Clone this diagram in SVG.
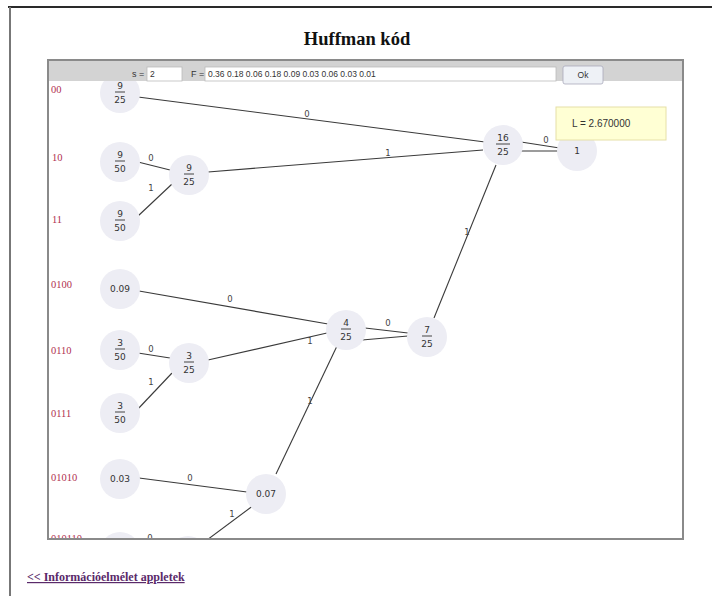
<svg xmlns="http://www.w3.org/2000/svg" width="712" height="596" viewBox="0 0 712 596">
  <defs>
    <style>
      .node circle { fill: #ededf4; }
      .val { font-family: "DejaVu Sans", Verdana, sans-serif; font-size: 9px; fill: #333; text-anchor: middle; }
      .bar { stroke: #444; stroke-width: 1; }
      .code { font-family: "Liberation Serif", serif; font-size: 10.5px; fill: #b03050; }
      .edge line { stroke: #3a3a3a; stroke-width: 1.1; }
      .elab { font-family: "DejaVu Sans", Verdana, sans-serif; font-size: 8.5px; fill: #444; text-anchor: middle; }
      .ui { font-family: "Liberation Sans", Arial, sans-serif; fill: #333; }
    </style>
    <clipPath id="canvas">
      <rect x="49" y="81" width="633" height="457"/>
    </clipPath>
  </defs>

  <!-- page -->
  <rect width="712" height="596" fill="#fff"/>
  <line x1="8" y1="7" x2="712" y2="7" stroke="#2a2a2a" stroke-width="2"/>
  <line x1="10" y1="7" x2="10" y2="596" stroke="#777" stroke-width="2"/>
  <text x="357" y="45" font-family="Liberation Serif, serif" font-size="18.5" font-weight="bold" text-anchor="middle" fill="#111">Huffman kód</text>

  <!-- applet area -->
  <rect x="48" y="60" width="635" height="479" fill="#fff" stroke="#8a8a8a" stroke-width="2"/>

  <g clip-path="url(#canvas)">
    <!-- connectors -->
    <g id="edges" class="edge">
      <line x1="138" y1="97" x2="485" y2="142"/>
      <line x1="208" y1="172" x2="483" y2="150"/>
      <line x1="138" y1="162" x2="170" y2="170"/>
      <line x1="137" y1="217" x2="172" y2="184"/>
      <line x1="521" y1="142" x2="566" y2="149"/>
      <line x1="520" y1="151" x2="565" y2="151"/>
      <line x1="434" y1="318" x2="496" y2="165"/>
      <line x1="139" y1="291" x2="328" y2="324"/>
      <line x1="208" y1="360" x2="327" y2="333"/>
      <line x1="365" y1="328" x2="408" y2="333"/>
      <line x1="362" y1="340" x2="408" y2="336"/>
      <line x1="276" y1="474" x2="337" y2="346"/>
      <line x1="138" y1="353" x2="170" y2="358"/>
      <line x1="137" y1="410" x2="172" y2="373"/>
      <line x1="139" y1="478" x2="247" y2="492"/>
      <line x1="254" y1="505" x2="207" y2="540"/>
      <line x1="139" y1="540" x2="168" y2="542"/>
      <text class="elab" x="307" y="117">0</text>
      <text class="elab" x="388" y="156">1</text>
      <text class="elab" x="151" y="161">0</text>
      <text class="elab" x="151" y="191">1</text>
      <text class="elab" x="546" y="143">0</text>
      <text class="elab" x="467" y="235">1</text>
      <text class="elab" x="230" y="302">0</text>
      <text class="elab" x="310" y="344">1</text>
      <text class="elab" x="388" y="326">0</text>
      <text class="elab" x="310" y="404">1</text>
      <text class="elab" x="151" y="352">0</text>
      <text class="elab" x="151" y="385">1</text>
      <text class="elab" x="190" y="481">0</text>
      <text class="elab" x="232" y="517">1</text>
      <text class="elab" x="150" y="541">0</text>
    </g>

    <!-- code words -->
    <g id="codes">
      <text class="code" x="51" y="93">00</text>
      <text class="code" x="52" y="161">10</text>
      <text class="code" x="52" y="223">11</text>
      <text class="code" x="51" y="288">0100</text>
      <text class="code" x="51" y="354">0110</text>
      <text class="code" x="51" y="417">0111</text>
      <text class="code" x="51" y="481">01010</text>
      <text class="code" x="51" y="542">010110</text>
    </g>

    <!-- nodes -->
    <g id="n-9-25a" class="node"><circle cx="120" cy="93" r="20"/>
      <text class="val" x="120" y="89">9</text><line class="bar" x1="115" y1="92" x2="125" y2="92"/><text class="val" x="120" y="103">25</text></g>
    <g id="n-9-50a" class="node"><circle cx="120" cy="162" r="20"/>
      <text class="val" x="120" y="158">9</text><line class="bar" x1="115" y1="161" x2="125" y2="161"/><text class="val" x="120" y="172">50</text></g>
    <g id="n-9-25b" class="node"><circle cx="189" cy="175" r="20"/>
      <text class="val" x="189" y="171">9</text><line class="bar" x1="184" y1="174" x2="194" y2="174"/><text class="val" x="189" y="185">25</text></g>
    <g id="n-9-50b" class="node"><circle cx="120" cy="221" r="20"/>
      <text class="val" x="120" y="217">9</text><line class="bar" x1="115" y1="220" x2="125" y2="220"/><text class="val" x="120" y="231">50</text></g>
    <g id="n-0-09" class="node"><circle cx="120" cy="289" r="20"/>
      <text class="val" x="120" y="292">0.09</text></g>
    <g id="n-3-50a" class="node"><circle cx="120" cy="350" r="20"/>
      <text class="val" x="120" y="346">3</text><line class="bar" x1="115" y1="349" x2="125" y2="349"/><text class="val" x="120" y="360">50</text></g>
    <g id="n-3-25" class="node"><circle cx="189" cy="363" r="20"/>
      <text class="val" x="189" y="359">3</text><line class="bar" x1="184" y1="362" x2="194" y2="362"/><text class="val" x="189" y="373">25</text></g>
    <g id="n-3-50b" class="node"><circle cx="120" cy="413" r="20"/>
      <text class="val" x="120" y="409">3</text><line class="bar" x1="115" y1="412" x2="125" y2="412"/><text class="val" x="120" y="423">50</text></g>
    <g id="n-0-03" class="node"><circle cx="120" cy="479" r="20"/>
      <text class="val" x="120" y="482">0.03</text></g>
    <g id="n-0-07" class="node"><circle cx="266" cy="494" r="20"/>
      <text class="val" x="266" y="497">0.07</text></g>
    <g id="n-4-25" class="node"><circle cx="346" cy="330" r="20"/>
      <text class="val" x="346" y="326">4</text><line class="bar" x1="341" y1="329" x2="351" y2="329"/><text class="val" x="346" y="340">25</text></g>
    <g id="n-7-25" class="node"><circle cx="427" cy="337" r="20"/>
      <text class="val" x="427" y="333">7</text><line class="bar" x1="422" y1="336" x2="432" y2="336"/><text class="val" x="427" y="347">25</text></g>
    <g id="n-16-25" class="node"><circle cx="503" cy="145" r="20"/>
      <text class="val" x="503" y="141">16</text><line class="bar" x1="496" y1="144" x2="510" y2="144"/><text class="val" x="503" y="155">25</text></g>
    <g id="n-1" class="node"><circle cx="577" cy="151" r="20"/>
      <text class="val" x="577" y="154">1</text></g>
    <g id="n-bottom-a" class="node"><circle cx="120" cy="552" r="20"/></g>
    <g id="n-bottom-b" class="node"><circle cx="188" cy="556" r="20"/></g>

    <!-- average length -->
    <g id="avg-length">
      <rect x="556" y="107" width="110" height="33" fill="#ffffd4" stroke="#e6e0a8"/>
      <text class="ui" x="572" y="127" style="font-size:10px">L = 2.670000</text>
    </g>
  </g>

  <!-- toolbar -->
  <g id="toolbar">
    <rect x="49" y="61" width="633" height="20" fill="#d3d3d3"/>
    <text class="ui" x="132" y="77" style="font-size:9px">s =</text>
    <rect x="147" y="67" width="35" height="14" fill="#fff" stroke="#bbb" stroke-width="0.8"/>
    <text class="ui" x="150" y="77" style="font-size:8.5px">2</text>
    <text class="ui" x="191" y="77" style="font-size:9px">F =</text>
    <rect x="205" y="67" width="351" height="14" fill="#fff" stroke="#bbb" stroke-width="0.8"/>
    <text class="ui" x="208" y="77" style="font-size:8.5px">0.36 0.18 0.06 0.18 0.09 0.03 0.06 0.03 0.01</text>
    <rect x="563" y="66" width="40" height="18" rx="2" fill="#eef1f6" stroke="#aab" stroke-width="0.8"/>
    <text class="ui" x="583" y="78" text-anchor="middle" style="font-size:8.5px">Ok</text>
  </g>

  <!-- back link -->
  <text x="27" y="581" font-family="Liberation Serif, serif" font-size="12" font-weight="bold" fill="#5a2a6a" text-decoration="underline">&lt;&lt; Információelmélet appletek</text>
</svg>
